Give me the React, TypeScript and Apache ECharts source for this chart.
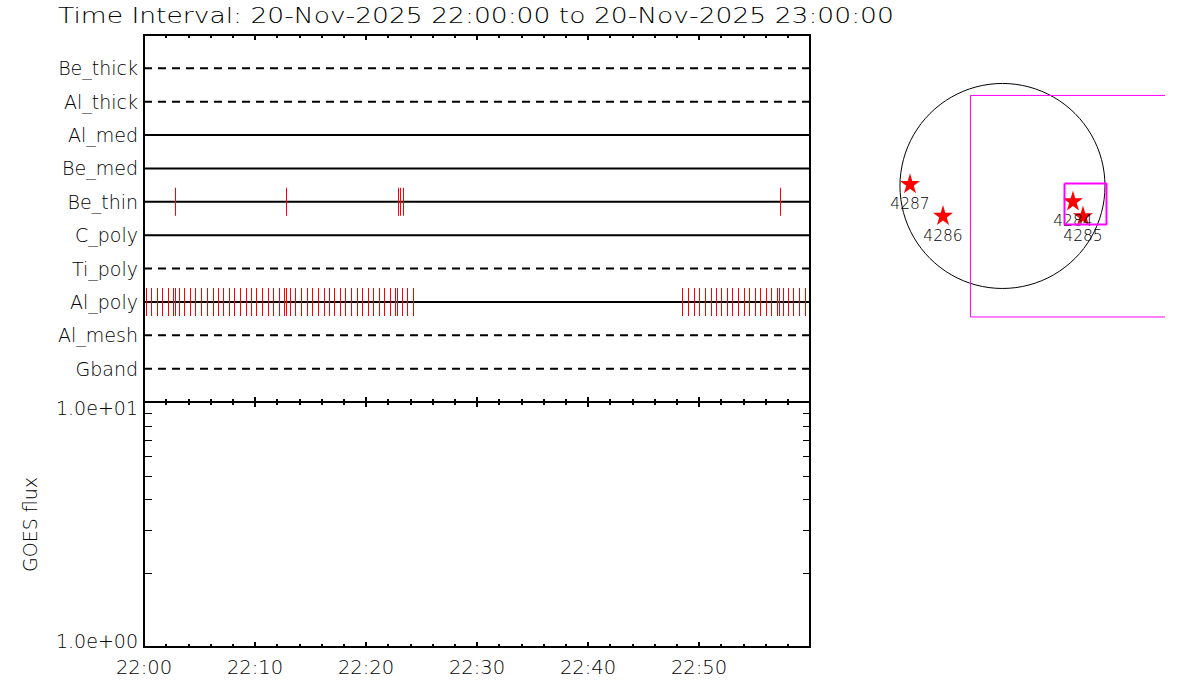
import React, { useEffect, useRef } from "react";
import * as echarts from "echarts";

const titleText = "Time Interval: 20-Nov-2025 22:00:00 to 20-Nov-2025 23:00:00";
const channels = ["Be_thick", "Al_thick", "Al_med", "Be_med", "Be_thin", "C_poly", "Ti_poly", "Al_poly", "Al_mesh", "Gband"];
const dashedChannels = ["Be_thick", "Al_thick", "Ti_poly", "Al_mesh", "Gband"];
const beThinTimes = [2.79, 12.79, 22.86, 23.05, 23.32, 57.3];
const alPolyTimes = [
  0.16, 0.61, 1.15, 1.6, 2.14, 2.59, 2.77, 3.14, 3.59, 4.13, 4.58, 5.12, 5.66, 6.2, 6.65, 7.1, 7.64, 8.09, 8.63, 9.17, 9.62, 10.07, 10.61, 11.15, 11.6, 12.14, 12.59, 12.77,
  13.14, 13.59, 14.13, 14.67, 15.12, 15.66, 16.2, 16.65, 17.1, 17.64, 18.09, 18.63, 19.17, 19.62, 20.16, 20.61, 21.15, 21.6, 22.14, 22.59, 22.77, 23.23, 23.68, 24.22,
  48.45, 48.99, 49.53, 49.98, 50.52, 51.06, 51.51, 51.96, 52.5, 52.95, 53.5, 54.04, 54.49, 55.03, 55.48, 56.02, 56.47, 57.01, 57.19, 57.55, 58.0, 58.45, 58.99, 59.53,
];
const fluxMinorTicks = [2, 3, 4, 5, 6, 7, 8, 9];
const fluxLabels: Record<number, string> = { 1: "1.0e+00", 10: "1.0e+01" };
const timeLabelHour = "22";

// solar map, arcseconds
const diskRadius = 960;
const regionNames = ["4287", "4286", "4284", "4285"];
const regionX = [-866, -557, 660, 754];
const regionY = [25, -272, -136, -276];
const fovLarge = [[1522, 848], [-300, 848], [-300, -1227], [1522, -1227]];
const fovSmall = [[581, 23], [974, 23], [974, -361], [581, -361], [581, 23]];

const FONT = "DejaVu Sans";
const WEIGHT = 200;
const STAR = "path://M50 0 L61 35 L98 35 L68 57 L79 91 L50 70 L21 91 L32 57 L2 35 L39 35 Z";

function yOf(name: string) {
  return channels.length - channels.indexOf(name);
}

function tickSeries(times: number[], name: string) {
  return {
    type: "custom",
    xAxisIndex: 0,
    yAxisIndex: 0,
    z: 5,
    clip: false,
    data: times.map((t) => [t, yOf(name)]),
    renderItem: (_p: any, api: any) => {
      const c = api.coord([api.value(0), api.value(1)]);
      return {
        type: "rect",
        shape: { x: Math.round(c[0]), y: c[1] - 14, width: 1, height: 28 },
        style: { fill: "#ff0000" },
      };
    },
  };
}

function App() {
  const ref = useRef<HTMLDivElement>(null);
  useEffect(() => {
    const chart = echarts.init(ref.current!, null, { renderer: "svg" });
    const timeAxis = (gridIndex: number, position: string, labels: boolean) => ({
      type: "value",
      gridIndex,
      position,
      min: 0,
      max: 60,
      interval: 10,
      axisLine: { show: false },
      splitLine: { show: false },
      axisTick: { show: true, inside: true, length: 5, lineStyle: { color: "#000", width: 2 } },
      minorTick: { show: true, splitNumber: 5, length: 3, lineStyle: { color: "#000", width: 2 } },
      axisLabel: labels
        ? {
            show: true,
            margin: 10,
            fontFamily: FONT,
            fontWeight: WEIGHT,
            fontSize: 19.5,
            color: "#000",
            showMaxLabel: false,
            formatter: (v: number) => `${timeLabelHour}:${String(v).padStart(2, "0")}`,
          }
        : { show: false },
    });
    chart.setOption({
      animation: false,
      backgroundColor: "#fff",
      graphic: [
        {
          type: "text",
          x: 58,
          y: 4,
          scaleX: 1.207,
          style: { text: titleText, fontFamily: FONT, fontWeight: WEIGHT, fontSize: 22, fill: "#000" },
        },
      ],
      grid: [
        { left: 144, top: 35, width: 666, height: 367, show: true, borderColor: "#000", borderWidth: 2, backgroundColor: "transparent" },
        { left: 144, top: 402, width: 666, height: 245, show: true, borderColor: "#000", borderWidth: 2, backgroundColor: "transparent" },
        { left: 880, top: 60, width: 285, height: 270 },
      ],
      xAxis: [
        timeAxis(0, "bottom", false),
        timeAxis(0, "top", false),
        timeAxis(1, "bottom", true),
        timeAxis(1, "top", false),
        { type: "value", gridIndex: 2, min: -1147, max: 1522, show: false },
      ],
      yAxis: [
        {
          type: "value",
          gridIndex: 0,
          min: 0,
          max: 11,
          interval: 1,
          axisLine: { show: false },
          axisTick: { show: false },
          splitLine: { show: false },
          axisLabel: {
            margin: 6,
            fontFamily: FONT,
            fontWeight: WEIGHT,
            fontSize: 19,
            padding: [3, 0, 0, 0],
            color: "#000",
            formatter: (v: number) => (v >= 1 && v <= channels.length ? channels[channels.length - v] : ""),
          },
        },
        {
          type: "log",
          logBase: 10,
          gridIndex: 1,
          min: 1,
          max: 10,
          name: "GOES flux",
          nameLocation: "middle",
          nameGap: 105,
          nameRotate: 90,
          nameMoveOverlap: false,
          nameTextStyle: { fontFamily: FONT, fontWeight: WEIGHT, fontSize: 19, color: "#000" },
          axisLine: { show: false },
          axisTick: { show: false },
          splitLine: { show: false },
          minorTick: { show: false },
          axisLabel: {
            margin: 6,
            fontFamily: FONT,
            fontWeight: WEIGHT,
            fontSize: 19,
            lineHeight: 12,
            color: "#000",
            verticalAlignMinLabel: "bottom",
            verticalAlignMaxLabel: "top",
            formatter: (v: number) => fluxLabels[Math.round(v)] ?? "",
          },
        },
        { type: "value", gridIndex: 2, min: -1349, max: 1180, show: false },
      ],
      series: [
        ...channels.map((name) => ({
          type: "line",
          xAxisIndex: 0,
          yAxisIndex: 0,
          symbol: "none",
          lineStyle: { color: "#000", width: 2, type: dashedChannels.includes(name) ? [8, 6] : "solid" },
          data: [[0, yOf(name)], [60, yOf(name)]],
        })),
        tickSeries(beThinTimes, "Be_thin"),
        tickSeries(alPolyTimes, "Al_poly"),
        {
          type: "custom",
          xAxisIndex: 2,
          yAxisIndex: 1,
          clip: false,
          data: fluxMinorTicks.map((v) => [0, v]),
          renderItem: (_p: any, api: any) => {
            const a = api.coord([0, api.value(1)]);
            const b = api.coord([60, api.value(1)]);
            const y = Math.round(a[1]) + 0.5;
            return {
              type: "group",
              children: [
                { type: "line", shape: { x1: a[0], y1: y, x2: a[0] + 8, y2: y }, style: { stroke: "#000", lineWidth: 1 } },
                { type: "line", shape: { x1: b[0] - 7, y1: y, x2: b[0], y2: y }, style: { stroke: "#000", lineWidth: 1 } },
              ],
            };
          },
        },
        {
          type: "custom",
          xAxisIndex: 4,
          yAxisIndex: 2,
          clip: false,
          data: [[0, 0, diskRadius]],
          renderItem: (_p: any, api: any) => {
            const c = api.coord([api.value(0), api.value(1)]);
            const r = api.size([api.value(2), 0])[0];
            return {
              type: "circle",
              shape: { cx: c[0], cy: c[1], r },
              style: { fill: "none", stroke: "#000", lineWidth: 1 },
            };
          },
        },
        {
          type: "line",
          xAxisIndex: 4,
          yAxisIndex: 2,
          symbol: "none",
          lineStyle: { color: "#ff00ff", width: 1 },
          data: fovLarge,
        },
        {
          type: "line",
          xAxisIndex: 4,
          yAxisIndex: 2,
          symbol: "none",
          lineStyle: { color: "#ff00ff", width: 2 },
          data: fovSmall,
        },
        {
          type: "scatter",
          xAxisIndex: 4,
          yAxisIndex: 2,
          symbol: STAR,
          symbolSize: 20,
          itemStyle: { color: "#ff0000", opacity: 1 },
          label: {
            show: true,
            position: "bottom",
            distance: 3,
            fontFamily: FONT,
            fontWeight: WEIGHT,
            fontSize: 15.5,
            color: "#000",
            formatter: (p: any) => p.name,
          },
          data: regionNames.map((name, i) => ({ name, value: [regionX[i], regionY[i]] })),
        },
      ],
    });
    return () => chart.dispose();
  }, []);
  return <div ref={ref} style={{ position: "absolute", left: 0, top: 0, width: 1200, height: 700 }} />;
}

export default App;
